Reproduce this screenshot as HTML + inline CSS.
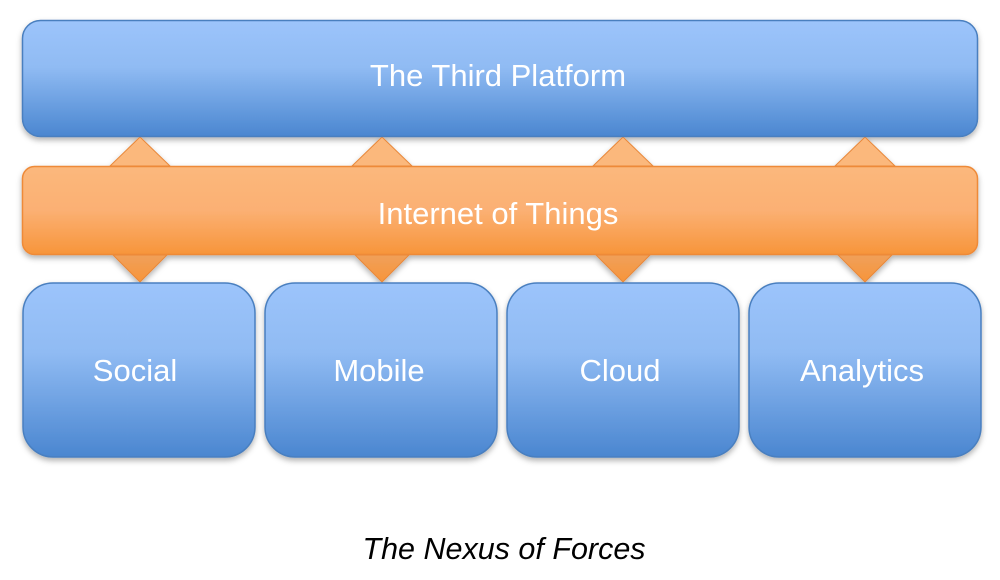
<!DOCTYPE html>
<html><head><meta charset="utf-8"><style>
html,body{margin:0;padding:0;background:#fff;width:1000px;height:580px;overflow:hidden}
text{font-family:"Liberation Sans",sans-serif}
</style></head><body>
<svg width="1000" height="580" viewBox="0 0 1000 580" xmlns="http://www.w3.org/2000/svg">
<defs>
<linearGradient id="b" x1="0" y1="0" x2="0" y2="1">
<stop offset="0" stop-color="#9cc4fb"/><stop offset="0.4" stop-color="#90bbf3"/><stop offset="1" stop-color="#4a86d0"/></linearGradient>
<linearGradient id="o" x1="0" y1="0" x2="0" y2="1">
<stop offset="0" stop-color="#fbb87c"/><stop offset="0.5" stop-color="#fbb073"/><stop offset="1" stop-color="#f7953a"/></linearGradient>
<linearGradient id="od" x1="0" y1="0" x2="0" y2="1">
<stop offset="0" stop-color="#f0a05a"/><stop offset="1" stop-color="#f7953a"/></linearGradient>
<filter id="s" x="-10%" y="-10%" width="120%" height="130%"><feDropShadow dx="0" dy="3" stdDeviation="3" flood-color="#000" flood-opacity="0.3"/></filter>
</defs>
<g filter="url(#s)">
<polygon points="140,137 170,166 110,166" fill="#fbb87c" stroke="#e8883a" stroke-width="1"/>
<polygon points="382,137 412,166 352,166" fill="#fbb87c" stroke="#e8883a" stroke-width="1"/>
<polygon points="623,137 653,166 593,166" fill="#fbb87c" stroke="#e8883a" stroke-width="1"/>
<polygon points="865,137 895,166 835,166" fill="#fbb87c" stroke="#e8883a" stroke-width="1"/>
<polygon points="113,255 167,255 140,282" fill="url(#od)" stroke="#e8883a" stroke-width="1"/>
<polygon points="355,255 409,255 382,282" fill="url(#od)" stroke="#e8883a" stroke-width="1"/>
<polygon points="596,255 650,255 623,282" fill="url(#od)" stroke="#e8883a" stroke-width="1"/>
<polygon points="838,255 892,255 865,282" fill="url(#od)" stroke="#e8883a" stroke-width="1"/>
<rect x="22.5" y="20.5" width="955" height="116" rx="18" fill="url(#b)" stroke="#4a7fbf" stroke-width="1.5"/>
<rect x="22.5" y="166.5" width="955" height="88" rx="12" fill="url(#o)" stroke="#ee8a38" stroke-width="1.5"/>
<rect x="23" y="283" width="232" height="174" rx="30" fill="url(#b)" stroke="#4a7fbf" stroke-width="1.5"/>
<rect x="265" y="283" width="232" height="174" rx="30" fill="url(#b)" stroke="#4a7fbf" stroke-width="1.5"/>
<rect x="507" y="283" width="232" height="174" rx="30" fill="url(#b)" stroke="#4a7fbf" stroke-width="1.5"/>
<rect x="749" y="283" width="232" height="174" rx="30" fill="url(#b)" stroke="#4a7fbf" stroke-width="1.5"/>
</g>
<g fill="#fff" font-size="31" text-anchor="middle">
<text x="498" y="86">The Third Platform</text>
<text x="498" y="224">Internet of Things</text>
<text x="135" y="381">Social</text>
<text x="379" y="381">Mobile</text>
<text x="620" y="381">Cloud</text>
<text x="862" y="381">Analytics</text>
</g>
<text x="504" y="559" font-size="30.5" font-style="italic" text-anchor="middle" fill="#000">The Nexus of Forces</text>
</svg>
</body></html>
